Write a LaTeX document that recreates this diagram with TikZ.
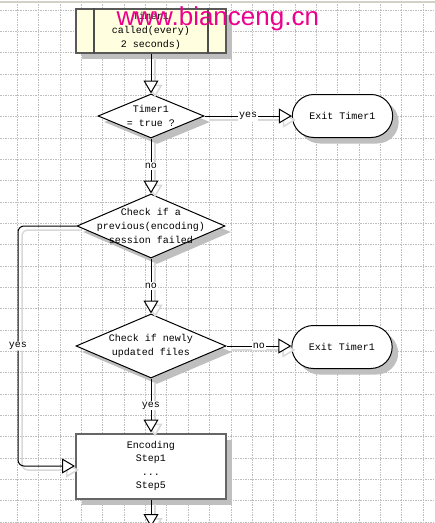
\documentclass[tikz,border=0pt]{standalone}
\usepackage{fontspec}
\newfontfamily\flowfont{Liberation Mono}
\newfontfamily\markfont{Liberation Sans}
\usetikzlibrary{arrows.meta,shapes.geometric,shapes.misc,shadows}
\definecolor{paleyellow}{RGB}{255,255,224}
\definecolor{gridgray}{RGB}{190,190,190}
\definecolor{framegray}{RGB}{212,208,200}
\begin{document}
\begin{tikzpicture}[x=1pt,y=-1pt,>={Triangle[length=13pt,width=15pt,fill=white]},
  every node/.style={font=\flowfont\fontsize{10}{13.6}\selectfont,align=center},
  gridline/.style={gridgray,line width=0.8pt,dash pattern=on 2pt off 1pt on 1pt off 1pt},
  boxshadow/.style={drop shadow={shadow xshift=6pt,shadow yshift=-6pt,fill=black!25,opacity=1}},
  process/.style={rectangle,draw=black!60,line width=2pt,fill=white,minimum width=150pt,minimum height=65pt,boxshadow},
  decision/.style={diamond,draw=black,line width=1pt,fill=white,inner sep=0pt,boxshadow},
  terminal/.style={rounded rectangle,draw=black,line width=1pt,fill=white,minimum width=107pt,minimum height=43pt,boxshadow},
  flow/.style={->,line width=1pt,preaction={draw=black!15,line width=1.5pt,transform canvas={shift={(4pt,-4pt)}}}},
  lbl/.style={fill=white,inner sep=1pt}]
\clip (0,0) rectangle (435,523);
\draw[framegray,line width=1.5pt] (0,2) -- (435,2);
\foreach \k in {0,...,24} \draw[gridline] (0,{10+21.33*\k}) -- (435,{10+21.33*\k});
\foreach \k in {0,...,19} \draw[gridline] ({17.3+21.36*\k},4) -- ({17.3+21.36*\k},523);

\node[process,fill=paleyellow,draw=black!65,minimum height=43pt] (tb) at (151,31) {Timer1\\called(every)\\2 seconds)};
\draw[black!70,line width=1.5pt] ([xshift=19pt]tb.north west) -- ([xshift=19pt]tb.south west);
\draw[black!70,line width=1.5pt] ([xshift=-19pt]tb.north east) -- ([xshift=-19pt]tb.south east);
\node[decision,minimum width=106pt,minimum height=44pt,label={[align=center]center:Timer1\\= true ?}] (d1) at (151,116) {};
\node[terminal] (x1) at (342.5,116) {Exit Timer1};
\node[decision,minimum width=148pt,minimum height=64pt,label={[align=center]center:Check if a\\previous(encoding)\\session failed}] (d2) at (151,226) {};
\node[decision,minimum width=150pt,minimum height=64pt,label={[align=center]center:Check if newly\\updated files}] (d3) at (151,346) {};
\node[terminal] (x2) at (342,347) {Exit Timer1};
\node[process] (enc) at (151,466) {Encoding\\Step1\\...\\Step5};
\coordinate (lc) at (18,466);
\coordinate (out) at (151,527);

\draw[flow] (tb) -- (d1);
\draw[flow] (d1) -- node[lbl]{yes} (x1);
\draw[flow] (d1) -- node[lbl]{no} (d2);
\draw[flow] (d2) -- node[lbl]{no} (d3);
\draw[flow] (d3.east) -- node[lbl]{no} (x2.west |- d3.east);
\draw[flow] (d3) -- node[lbl]{yes} (enc);
\draw[flow,rounded corners=6pt] (d2.west) -| node[pos=0.75,lbl]{yes} (lc) -- (enc.west);
\draw[flow] (enc) -- (out);

\node[font=\markfont\fontsize{26}{26}\selectfont,text=magenta,anchor=base west,inner sep=0pt] (mark) at (116.5,25) {www.bianceng.cn};
\end{tikzpicture}
\end{document}
